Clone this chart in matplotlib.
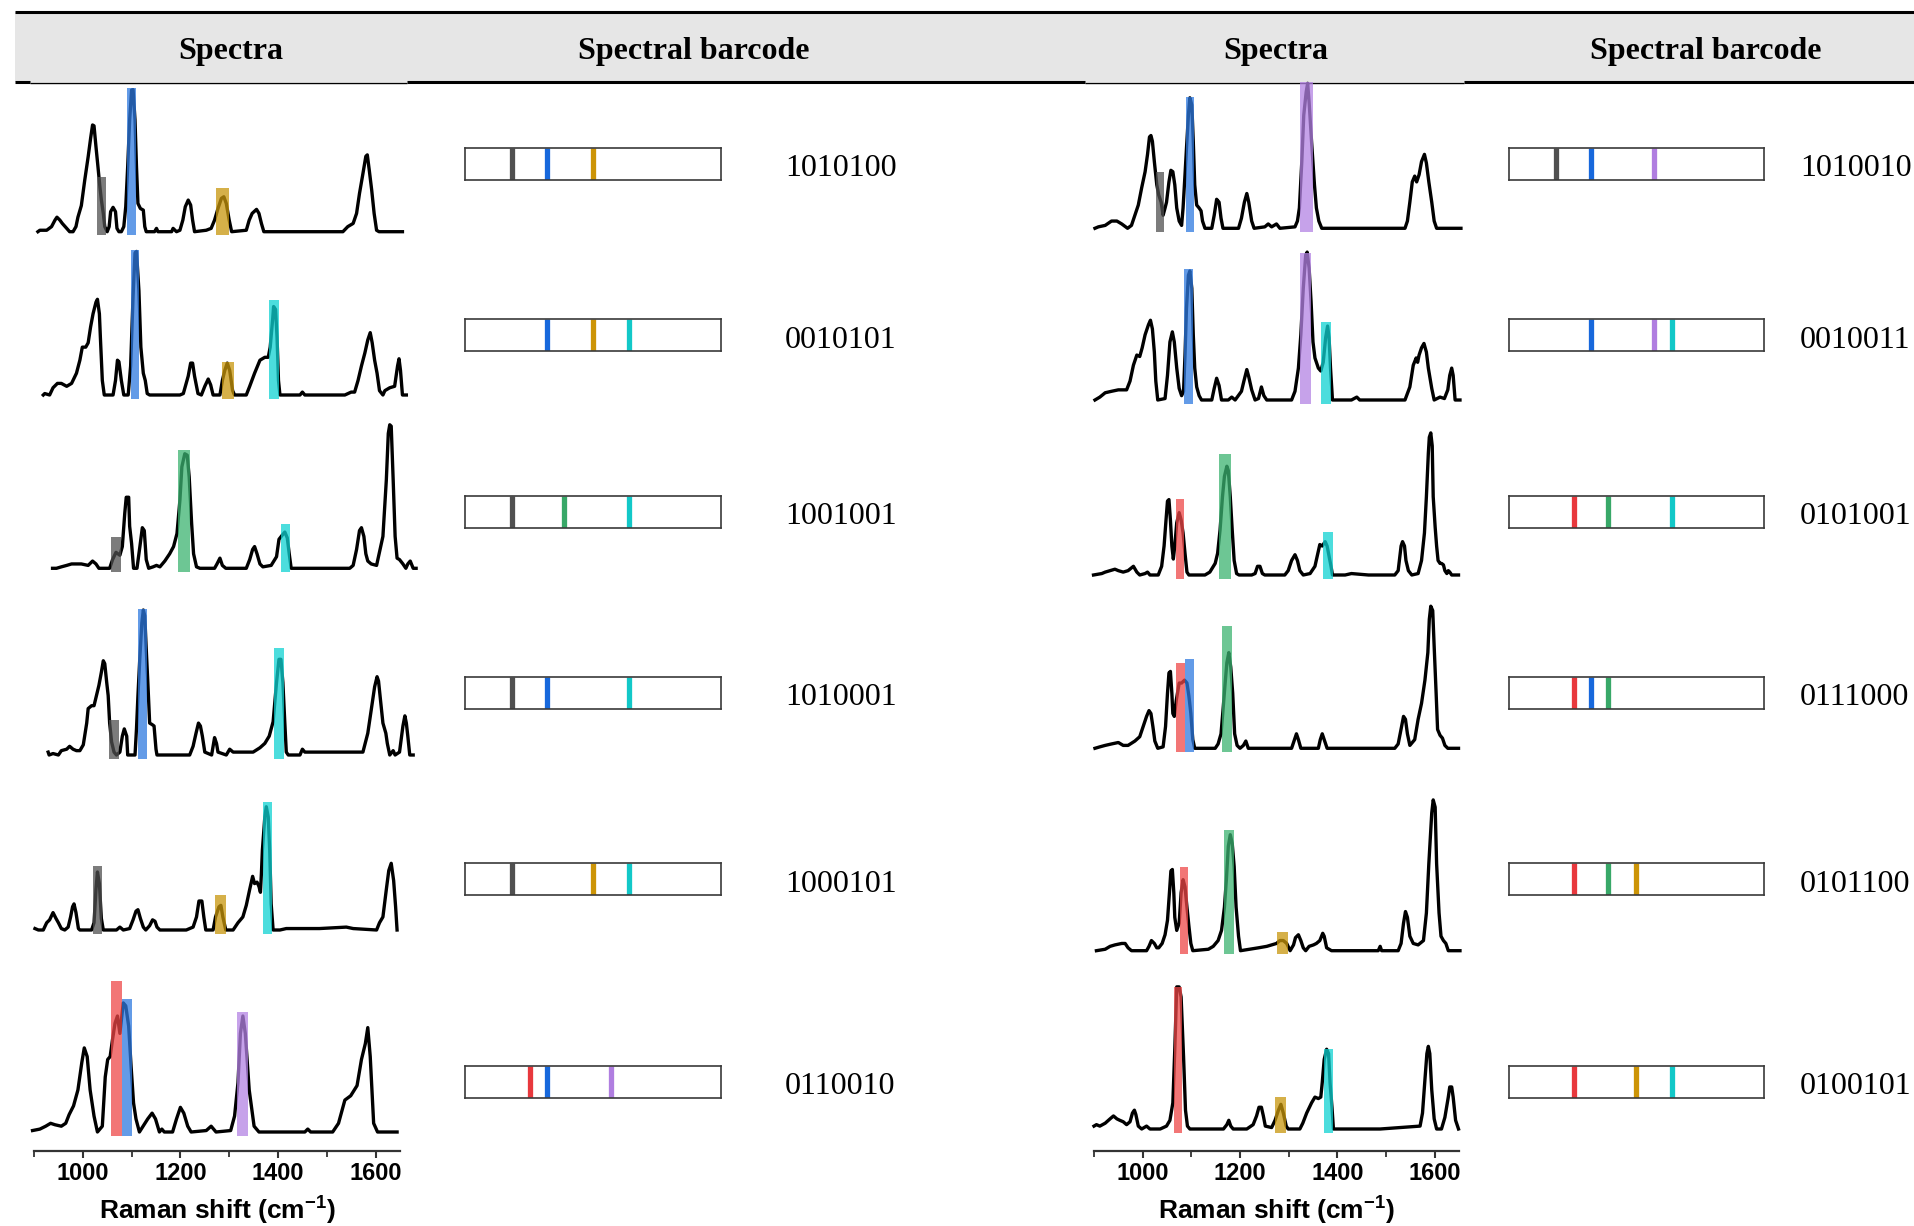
import numpy as np
import matplotlib
matplotlib.use("Agg")
import matplotlib.pyplot as plt
from matplotlib.patches import Rectangle

plt.rcParams['mathtext.fontset'] = 'custom'
plt.rcParams['mathtext.rm'] = 'Liberation Sans'
plt.rcParams['mathtext.bf'] = 'Liberation Sans:bold'

# ---- data ----
# peak colours, in barcode bit order
bit_colors = ['#505050', '#e8383d', '#1768dc', '#38a868', '#cc9406', '#b07ee0', '#12c8c8']
band_colors = ['#505050', '#ee4848', '#2f7ae0', '#3cb371', '#c8960c', '#b483e4', '#10d2d2']
# position of each bit along the barcode strip (fraction of strip)
bit_pos = [0.183, 0.254, 0.32, 0.387, 0.50, 0.57, 0.64]

codes_left = ['1010100', '0010101', '1001001', '1010001', '1000101', '0110010']
codes_right = ['1010010', '0010011', '0101001', '0111000', '0101100', '0100101']

# spectra: (Raman shift cm-1, normalised intensity)
L1 = [(908,0),(912,0.01),(926,0.01),(936,0.035),(943,0.08),(947,0.10),(953,0.08),(958,0.057),(967,0.023),(973,0),(980,0),(986,0.035),(990,0.10),(997,0.18),(1004,0.356),(1011,0.517),(1016,0.644),(1020,0.736),(1023,0.73),(1027,0.586),(1031,0.45),(1035,0.31),(1038,0.22),(1042,0.126),(1045,0.035),(1050,0),(1054,0.035),(1057,0.138),(1062,0.168),(1067,0.138),(1070,0.023),(1074,0),(1079,0),(1084,0.035),(1088,0.172),(1092,0.45),(1096,0.77),(1100,0.977),(1103,0.98),(1107,0.77),(1110,0.45),(1113,0.195),(1118,0.16),(1124,0.149),(1127,0.035),(1130,0),(1147,0),(1151,0.023),(1154,0),(1182,0),(1185,0.023),(1192,0),(1199,0.01),(1205,0.08),(1210,0.172),(1216,0.218),(1221,0.184),(1225,0.08),(1229,0),(1253,0.01),(1263,0.023),(1270,0.08),(1277,0.16),(1284,0.23),(1289,0.241),(1294,0.195),(1300,0.08),(1305,0),(1335,0.01),(1341,0.08),(1347,0.126),(1356,0.154),(1361,0.126),(1366,0.057),(1371,0),(1533,0),(1543,0.035),(1554,0.057),(1561,0.126),(1567,0.264),(1574,0.40),(1580,0.52),(1583,0.53),(1587,0.425),(1592,0.287),(1597,0.126),(1602,0.01),(1607,0),(1655,0)]
L2 = [(919,0),(922,0.01),(932,0),(939,0.05),(948,0.08),(956,0.08),(967,0.06),(977,0.08),(987,0.15),(994,0.24),(999,0.33),(1006,0.33),(1011,0.36),(1016,0.47),(1021,0.56),(1027,0.64),(1030,0.66),(1034,0.56),(1036,0.40),(1040,0.10),(1044,0),(1062,0),(1067,0.10),(1071,0.24),(1074,0.23),(1079,0.10),(1084,0),(1093,0),(1098,0.20),(1103,0.68),(1107,0.98),(1110,0.99),(1115,0.72),(1119,0.33),(1124,0.15),(1128,0.10),(1132,0.01),(1137,0),(1199,0),(1206,0.01),(1216,0.13),(1221,0.22),(1225,0.22),(1229,0.13),(1236,0.01),(1243,0),(1250,0.06),(1257,0.11),(1262,0.07),(1267,0),(1281,0),(1286,0.10),(1291,0.17),(1296,0.22),(1301,0.17),(1307,0.03),(1311,0),(1335,0),(1342,0.06),(1352,0.15),(1363,0.24),(1373,0.26),(1380,0.26),(1384,0.33),(1389,0.52),(1391,0.61),(1395,0.59),(1398,0.40),(1401,0.10),(1404,0),(1445,0),(1450,0.02),(1455,0),(1537,0),(1550,0.02),(1557,0.02),(1564,0.10),(1571,0.20),(1578,0.29),(1584,0.38),(1589,0.43),(1593,0.36),(1598,0.24),(1603,0.15),(1608,0.03),(1615,0),(1619,0.03),(1629,0.05),(1639,0.06),(1645,0.20),(1648,0.25),(1651,0.17),(1655,0),(1663,0)]
L3 = [(938,0),(946,0),(956,0.01),(967,0.02),(977,0.03),(987,0.03),(997,0.03),(1011,0.02),(1020,0.05),(1027,0.03),(1033,0),(1055,0),(1061,0.06),(1068,0.11),(1076,0.09),(1081,0.15),(1086,0.38),(1089,0.49),(1094,0.49),(1096,0.29),(1100,0.17),(1104,0),(1111,0),(1117,0.15),(1122,0.28),(1126,0.26),(1130,0.06),(1135,0),(1144,0.01),(1151,0.02),(1158,0.01),(1168,0.05),(1178,0.10),(1186,0.15),(1193,0.24),(1199,0.47),(1203,0.70),(1209,0.79),(1214,0.78),(1218,0.63),(1223,0.31),(1227,0.10),(1233,0.01),(1240,0),(1270,0),(1275,0.03),(1281,0.07),(1286,0.02),(1293,0),(1335,0),(1342,0.06),(1348,0.13),(1352,0.15),(1357,0.10),(1363,0.03),(1369,0.01),(1386,0.02),(1397,0.08),(1402,0.20),(1409,0.23),(1414,0.25),(1419,0.21),(1423,0.10),(1427,0),(1547,0),(1554,0.02),(1561,0.13),(1567,0.26),(1571,0.28),(1576,0.22),(1580,0.10),(1584,0.05),(1591,0.03),(1602,0.02),(1615,0.22),(1622,0.61),(1626,0.93),(1629,0.99),(1632,0.98),(1636,0.61),(1640,0.22),(1644,0.07),(1649,0.06),(1656,0.03),(1662,0),(1666,0.03),(1671,0.05),(1677,0),(1683,0)]
L4 = [(929,0.02),(931,0),(939,0.01),(950,0),(956,0.03),(967,0.04),(973,0.06),(980,0.04),(987,0.03),(994,0.03),(1001,0.07),(1008,0.22),(1011,0.32),(1018,0.34),(1023,0.34),(1028,0.41),(1033,0.48),(1038,0.57),(1042,0.65),(1045,0.63),(1049,0.50),(1052,0.41),(1055,0.22),(1059,0.09),(1064,0.02),(1069,0),(1076,0.02),(1081,0.13),(1085,0.18),(1090,0.13),(1092,0),(1107,0),(1110,0.18),(1113,0.41),(1117,0.68),(1121,0.91),(1124,1.0),(1127,0.96),(1130,0.73),(1133,0.52),(1137,0.22),(1142,0.21),(1146,0.20),(1150,0.04),(1152,0),(1219,0),(1226,0.06),(1232,0.15),(1237,0.22),(1241,0.20),(1245,0.13),(1250,0.02),(1264,0),(1267,0.06),(1270,0.12),(1274,0.08),(1277,0.02),(1294,0),(1301,0.04),(1308,0.02),(1349,0.02),(1363,0.05),(1373,0.08),(1382,0.13),(1386,0.18),(1390,0.23),(1397,0.50),(1402,0.66),(1406,0.66),(1410,0.50),(1414,0.22),(1417,0.02),(1421,0),(1445,0),(1450,0.04),(1455,0.02),(1554,0.02),(1574,0.02),(1584,0.15),(1591,0.31),(1598,0.47),(1603,0.54),(1606,0.51),(1610,0.38),(1615,0.22),(1621,0.15),(1624,0.08),(1629,0),(1636,0.03),(1640,0),(1649,0.02),(1656,0.20),(1660,0.27),(1663,0.22),(1666,0.13),(1670,0),(1677,0)]
L5 = [(902,0.01),(909,0),(919,0),(926,0.05),(932,0.07),(939,0.12),(945,0.08),(950,0.05),(956,0.01),(963,0),(970,0.02),(975,0.09),(979,0.16),(982,0.18),(986,0.12),(991,0.01),(994,0),(1018,0),(1023,0.05),(1027,0.28),(1030,0.40),(1034,0.32),(1038,0.08),(1042,0),(1069,0),(1076,0.02),(1083,0),(1096,0.01),(1103,0.07),(1109,0.13),(1113,0.14),(1118,0.08),(1124,0.02),(1129,0),(1137,0.03),(1143,0.07),(1148,0.06),(1152,0.02),(1158,0),(1212,0),(1226,0.02),(1233,0.09),(1238,0.20),(1244,0.20),(1248,0.09),(1252,0),(1267,0),(1272,0.09),(1279,0.16),(1283,0.17),(1287,0.09),(1293,0),(1308,0),(1318,0.05),(1328,0.09),(1335,0.17),(1342,0.28),(1348,0.37),(1352,0.32),(1357,0.33),(1361,0.30),(1364,0.26),(1366,0.39),(1368,0.55),(1373,0.78),(1376,0.85),(1380,0.78),(1383,0.55),(1386,0.18),(1390,0),(1404,0),(1417,0.01),(1451,0.01),(1485,0.01),(1540,0.02),(1554,0.01),(1602,0),(1608,0.05),(1615,0.09),(1622,0.28),(1627,0.41),(1632,0.46),(1637,0.34),(1641,0.16),(1644,0)]
L6 = [(897,0.01),(912,0.02),(924,0.04),(934,0.06),(943,0.05),(956,0.04),(965,0.06),(972,0.12),(981,0.18),(990,0.29),(998,0.48),(1003,0.58),(1009,0.52),(1015,0.29),(1023,0.11),(1030,0),(1040,0.04),(1046,0.38),(1051,0.50),(1056,0.52),(1061,0.64),(1066,0.75),(1071,0.80),(1076,0.68),(1083,0.89),(1088,0.87),(1094,0.73),(1099,0.45),(1104,0.20),(1109,0.09),(1116,0),(1133,0.09),(1142,0.13),(1149,0.09),(1157,0),(1162,0.02),(1167,0),(1184,0),(1192,0.09),(1200,0.17),(1207,0.13),(1215,0.04),(1222,0),(1253,0.01),(1263,0.04),(1273,0),(1303,0.01),(1311,0.11),(1318,0.34),(1323,0.68),(1328,0.80),(1333,0.68),(1341,0.29),(1351,0.04),(1361,0),(1455,0),(1461,0.02),(1467,0),(1512,0),(1524,0.06),(1537,0.22),(1549,0.25),(1562,0.32),(1571,0.50),(1579,0.61),(1584,0.72),(1589,0.52),(1596,0.06),(1604,0),(1644,0)]
R1 = [(902,0),(909,0.01),(923,0.02),(936,0.05),(947,0.05),(957,0.03),(969,0),(977,0.02),(984,0.09),(991,0.16),(998,0.28),(1005,0.39),(1010,0.51),(1014,0.63),(1017,0.64),(1020,0.60),(1024,0.46),(1029,0.30),(1033,0.23),(1038,0.18),(1042,0.09),(1046,0.14),(1049,0.18),(1054,0.32),(1058,0.40),(1062,0.39),(1066,0.30),(1070,0.14),(1075,0.05),(1080,0.02),(1083,0.14),(1087,0.37),(1090,0.55),(1094,0.78),(1097,0.90),(1101,0.85),(1104,0.60),(1107,0.30),(1111,0.16),(1116,0.14),(1120,0.12),(1123,0.05),(1128,0),(1142,0),(1147,0.09),(1152,0.20),(1157,0.18),(1161,0.07),(1165,0),(1197,0),(1203,0.07),(1209,0.18),(1214,0.24),(1218,0.18),(1224,0.05),(1229,0),(1251,0.01),(1258,0.03),(1265,0.01),(1275,0.03),(1282,0),(1313,0.01),(1318,0.05),(1322,0.14),(1327,0.46),(1331,0.78),(1336,0.94),(1339,1.0),(1342,0.87),(1347,0.60),(1353,0.30),(1357,0.14),(1362,0.05),(1368,0),(1539,0),(1544,0.05),(1549,0.18),(1554,0.32),(1559,0.36),(1563,0.32),(1568,0.37),(1573,0.46),(1579,0.51),(1583,0.45),(1588,0.32),(1594,0.18),(1599,0.05),(1604,0),(1654,0)]
R2 = [(902,0),(912,0.02),(923,0.05),(936,0.06),(950,0.07),(967,0.07),(974,0.13),(981,0.24),(988,0.31),(994,0.30),(999,0.36),(1005,0.45),(1012,0.52),(1016,0.55),(1020,0.49),(1024,0.33),(1027,0.13),(1031,0),(1046,0.01),(1051,0.17),(1056,0.40),(1061,0.47),(1065,0.40),(1070,0.22),(1075,0.08),(1080,0.03),(1084,0.06),(1087,0.31),(1090,0.63),(1094,0.86),(1097,0.89),(1101,0.77),(1104,0.45),(1107,0.22),(1111,0.09),(1116,0.03),(1121,0),(1142,0),(1147,0.08),(1152,0.15),(1157,0.10),(1162,0),(1176,0),(1183,0.02),(1190,0),(1203,0.06),(1208,0.13),(1214,0.21),(1218,0.16),(1224,0.07),(1231,0),(1238,0.01),(1244,0.09),(1249,0.03),(1255,0),(1306,0),(1313,0.06),(1320,0.22),(1325,0.45),(1330,0.77),(1335,1.0),(1338,1.02),(1342,0.91),(1346,0.68),(1350,0.40),(1354,0.29),(1361,0.22),(1366,0.20),(1371,0.26),(1376,0.43),(1380,0.51),(1383,0.43),(1386,0.22),(1390,0),(1429,0),(1440,0.02),(1446,0),(1539,0),(1549,0.09),(1556,0.24),(1562,0.29),(1565,0.26),(1568,0.31),(1573,0.36),(1578,0.39),(1583,0.33),(1587,0.22),(1594,0.08),(1599,0),(1611,0.02),(1620,0.01),(1627,0.07),(1631,0.17),(1635,0.22),(1638,0.17),(1642,0),(1652,0)]
R3 = [(899,0),(916,0.01),(923,0.02),(933,0.03),(943,0.04),(950,0.03),(960,0.02),(970,0.03),(981,0.06),(988,0.02),(994,0),(1005,0.01),(1010,0.02),(1015,0),(1032,0),(1039,0.06),(1044,0.20),(1048,0.38),(1051,0.51),(1054,0.52),(1057,0.38),(1060,0.20),(1063,0.11),(1066,0.20),(1070,0.36),(1075,0.43),(1079,0.38),(1083,0.29),(1087,0.15),(1091,0.02),(1095,0),(1128,0),(1138,0.02),(1149,0.08),(1154,0.15),(1159,0.31),(1164,0.54),(1168,0.68),(1173,0.75),(1176,0.72),(1180,0.54),(1184,0.31),(1188,0.10),(1193,0.01),(1198,0),(1224,0),(1231,0.01),(1236,0.06),(1241,0.06),(1246,0.01),(1251,0),(1292,0),(1299,0.03),(1306,0.10),(1313,0.14),(1318,0.10),(1323,0.03),(1330,0),(1344,0.01),(1354,0.06),(1360,0.15),(1364,0.21),(1369,0.20),(1375,0.23),(1379,0.20),(1383,0.13),(1387,0.06),(1390,0),(1416,0),(1429,0.01),(1464,0),(1518,0),(1525,0.03),(1531,0.20),(1534,0.23),(1538,0.20),(1541,0.10),(1546,0.03),(1553,0),(1566,0.01),(1573,0.10),(1579,0.29),(1583,0.54),(1587,0.84),(1589,0.95),(1592,0.98),(1595,0.89),(1597,0.54),(1601,0.33),(1604,0.20),(1607,0.10),(1611,0.08),(1614,0.08),(1618,0.07),(1621,0.03),(1625,0.01),(1628,0.03),(1631,0.02),(1635,0),(1649,0)]
R4 = [(902,0),(912,0.01),(923,0.02),(936,0.03),(950,0.04),(960,0.02),(970,0.02),(984,0.05),(994,0.08),(1001,0.15),(1008,0.22),(1013,0.26),(1017,0.24),(1021,0.15),(1025,0.05),(1031,0),(1042,0.01),(1047,0.15),(1051,0.38),(1054,0.52),(1057,0.53),(1060,0.38),(1062,0.24),(1065,0.22),(1069,0.33),(1075,0.45),(1080,0.45),(1086,0.47),(1091,0.45),(1095,0.36),(1099,0.24),(1103,0.06),(1107,0),(1149,0),(1155,0.03),(1161,0.10),(1165,0.26),(1169,0.43),(1173,0.59),(1177,0.66),(1181,0.56),(1185,0.38),(1189,0.10),(1194,0.02),(1200,0),(1207,0.02),(1212,0.05),(1217,0),(1306,0),(1312,0.06),(1316,0.10),(1320,0.06),(1325,0),(1361,0),(1365,0.06),(1369,0.10),(1373,0.06),(1379,0),(1518,0),(1525,0.03),(1532,0.15),(1536,0.22),(1540,0.20),(1544,0.10),(1549,0.02),(1559,0.06),(1566,0.20),(1573,0.31),(1580,0.47),(1586,0.66),(1589,0.89),(1592,0.98),(1596,0.95),(1599,0.70),(1603,0.38),(1606,0.13),(1611,0.09),(1616,0.07),(1621,0.02),(1627,0),(1649,0)]
R5 = [(905,0),(923,0.01),(933,0.03),(943,0.04),(957,0.05),(964,0.05),(970,0.02),(977,0),(1008,0),(1013,0.03),(1018,0.07),(1024,0.05),(1029,0.02),(1033,0.02),(1040,0.05),(1046,0.11),(1051,0.21),(1055,0.40),(1058,0.55),(1061,0.56),(1064,0.40),(1066,0.23),(1070,0.14),(1075,0.19),(1079,0.40),(1083,0.49),(1087,0.44),(1091,0.30),(1095,0.17),(1099,0.05),(1103,0),(1135,0.01),(1145,0.03),(1155,0.07),(1162,0.14),(1168,0.30),(1172,0.49),(1176,0.72),(1180,0.80),(1184,0.74),(1188,0.58),(1192,0.30),(1197,0.10),(1201,0),(1238,0.02),(1255,0.03),(1265,0.04),(1275,0.05),(1282,0.07),(1289,0.07),(1296,0.05),(1303,0),(1310,0.04),(1314,0.09),(1320,0.11),(1325,0.07),(1330,0.02),(1335,0),(1342,0.03),(1351,0.04),(1357,0.05),(1364,0.07),(1370,0.12),(1373,0.10),(1378,0.02),(1388,0),(1484,0),(1488,0.03),(1491,0),(1525,0),(1531,0.05),(1536,0.19),(1540,0.27),(1544,0.23),(1549,0.10),(1556,0.05),(1566,0.04),(1577,0.07),(1583,0.26),(1588,0.60),(1594,0.95),(1597,1.04),(1601,0.99),(1604,0.60),(1609,0.26),(1613,0.10),(1618,0.07),(1623,0.05),(1628,0),(1652,0)]
R6 = [(900,0.02),(905,0.03),(912,0.02),(923,0.04),(933,0.07),(940,0.09),(947,0.07),(953,0.06),(960,0.05),(967,0.03),(974,0.05),(979,0.11),(983,0.13),(986,0.10),(991,0.02),(998,0),(1008,0.02),(1015,0),(1036,0),(1049,0.02),(1056,0.06),(1062,0.18),(1066,0.55),(1070,0.98),(1075,0.98),(1079,0.91),(1084,0.50),(1088,0.13),(1092,0.02),(1097,0),(1166,0),(1173,0.03),(1177,0.06),(1181,0.02),(1186,0),(1214,0),(1227,0.03),(1234,0.09),(1239,0.15),(1244,0.15),(1248,0.09),(1252,0.02),(1265,0.01),(1272,0.06),(1279,0.13),(1284,0.17),(1289,0.11),(1295,0.02),(1299,0),(1323,0),(1329,0.04),(1337,0.11),(1347,0.18),(1354,0.22),(1361,0.21),(1366,0.22),(1369,0.32),(1373,0.48),(1378,0.55),(1382,0.52),(1385,0.32),(1389,0.15),(1392,0),(1488,0),(1570,0.02),(1575,0.11),(1580,0.34),(1584,0.52),(1587,0.57),(1590,0.52),(1594,0.27),(1599,0.07),(1604,0),(1614,0),(1621,0.08),(1628,0.22),(1631,0.29),(1635,0.29),(1638,0.22),(1643,0.06),(1649,0)]

# highlighted bands: (bit, centre cm-1, top intensity, width cm-1)
bands_left = [
    [(0, 1038, 0.375, 19), (2, 1100, 0.99, 20), (4, 1287, 0.30, 27)],
    [(2, 1107, 1.0, 16), (4, 1297, 0.23, 25), (6, 1392, 0.655, 20)],
    [(0, 1068, 0.218, 20), (3, 1207, 0.816, 24), (6, 1416, 0.306, 19)],
    [(0, 1064, 0.239, 19), (2, 1123, 1.01, 18), (6, 1402, 0.74, 20)],
    [(0, 1030, 0.441, 18), (4, 1282, 0.241, 24), (6, 1379, 0.885, 19)],
    [(1, 1069, 1.04, 21), (2, 1091, 0.917, 21), (5, 1327, 0.828, 23)],
]
bands_right = [
    [(0, 1035, 0.386, 17), (2, 1098, 0.908, 17), (5, 1337, 1.01, 27)],
    [(2, 1094, 0.903, 17), (5, 1335, 1.016, 23), (6, 1376, 0.536, 20)],
    [(1, 1077, 0.522, 16), (3, 1169, 0.832, 23), (6, 1381, 0.299, 19)],
    [(1, 1078, 0.591, 17), (2, 1096, 0.614, 20), (3, 1173, 0.844, 22)],
    [(1, 1085, 0.575, 16), (3, 1178, 0.832, 21), (4, 1288, 0.131, 22)],
    [(1, 1073, 0.977, 16), (4, 1284, 0.218, 23), (6, 1382, 0.552, 19)],
]
spectra_left = [L1, L2, L3, L4, L5, L6]
spectra_right = [R1, R2, R3, R4, R5, R6]

# ---- layout (pixels) ----
W, H = 1915, 1226
fig = plt.figure(figsize=(W / 100, H / 100), dpi=100)


def px_axes(x0, y0, x1, y1, **kw):
    return fig.add_axes([x0 / W, 1 - y1 / H, (x1 - x0) / W, (y1 - y0) / H], **kw)


serif = 'Liberation Serif'
sans = 'Liberation Sans'

# header
bg = px_axes(0, 0, W, H)
bg.set_xlim(0, W)
bg.set_ylim(H, 0)
bg.axis('off')
bg.add_patch(Rectangle((15, 12), W - 15, 70, facecolor='#e6e6e6', edgecolor='none'))
bg.hlines(12, 15, W, color='black', lw=2.2)
bg.hlines(82, 15, 30, color='black', lw=2.2)
bg.hlines(83, 30, 407, color='black', lw=1.0)
bg.hlines(82, 407, 1085, color='black', lw=2.2)
bg.hlines(83, 1085, 1464, color='black', lw=1.0)
bg.hlines(82, 1464, W, color='black', lw=2.2)
for xc, txt in [(231, 'Spectra'), (694, 'Spectral barcode'), (1276, 'Spectra'), (1706, 'Spectral barcode')]:
    bg.text(xc, 51, txt, ha='center', va='center', fontsize=23, fontweight='bold', family=serif)

cols = [
    dict(spec=spectra_left, bands=bands_left, codes=codes_left, x0=34, x1=400,
         base=[231.7, 395, 568.3, 755, 930, 1132], bx0=465, bx1=721, tx=785),
    dict(spec=spectra_right, bands=bands_right, codes=codes_right, x0=1094, x1=1459,
         base=[228.3, 400, 575, 748.3, 950.7, 1129], bx0=1509, bx1=1764, tx=1800),
]
bar_rows = [164, 335, 511.7, 692.5, 879.3, 1082]
unit = 145  # pixels per intensity unit

for c in cols:
    for i in range(6):
        b = c['base'][i]
        ax = px_axes(c['x0'], b - unit, c['x1'], b)
        ax.patch.set_alpha(0)
        ax.set_xlim(900, 1650)
        ax.set_ylim(0, 1)
        ax.axis('off')
        d = np.array(c['spec'][i])
        ax.plot(d[:, 0], d[:, 1], color='black', lw=2.4, clip_on=False, zorder=2)
        for bit, cen, top, wid in c['bands'][i]:
            ax.bar(cen, top + 0.025, width=wid, bottom=-0.025, color=band_colors[bit],
                   alpha=0.75, linewidth=0, clip_on=False, zorder=3)

        # barcode strip
        yc = bar_rows[i]
        bx = px_axes(c['bx0'], yc - 16, c['bx1'], yc + 16)
        bx.set_xlim(0, 1)
        bx.set_ylim(0, 1)
        bx.set_xticks([])
        bx.set_yticks([])
        for s in bx.spines.values():
            s.set_color('#3a3a3a')
            s.set_linewidth(1.2)
        code = c['codes'][i]
        for k, ch in enumerate(code):
            if ch == '1':
                bx.vlines(bit_pos[k], 0, 1, color=bit_colors[k], lw=3.8)
        fig.text(c['tx'] / W, 1 - (yc + 5) / H, code, ha='left', va='center',
                 fontsize=23, family=serif)

    # x axis under the last row
    xa = px_axes(c['x0'], 1150, c['x1'], 1151)
    xa.patch.set_alpha(0)
    xa.set_xlim(900, 1650)
    for s in ['top', 'left', 'right']:
        xa.spines[s].set_visible(False)
    xa.spines['bottom'].set_linewidth(1.6)
    xa.spines['bottom'].set_color('#333333')
    xa.set_yticks([])
    xa.set_xticks([1000, 1200, 1400, 1600])
    xa.set_xticks([900, 1100, 1300, 1500], minor=True)
    xa.tick_params(axis='x', which='major', direction='out', length=5, width=1.5,
                   color='#333333', pad=3, labelsize=17)
    xa.tick_params(axis='x', which='minor', direction='out', length=4, width=1.3, color='#333333')
    for lab in xa.get_xticklabels():
        lab.set_fontweight('bold')
        lab.set_family(sans)
    xa.set_xlabel(r'Raman shift (cm$^{\mathbf{-1}}$)', fontsize=19, fontweight='bold',
                  family=sans, labelpad=6)

fig.savefig('out.png', dpi=100)
